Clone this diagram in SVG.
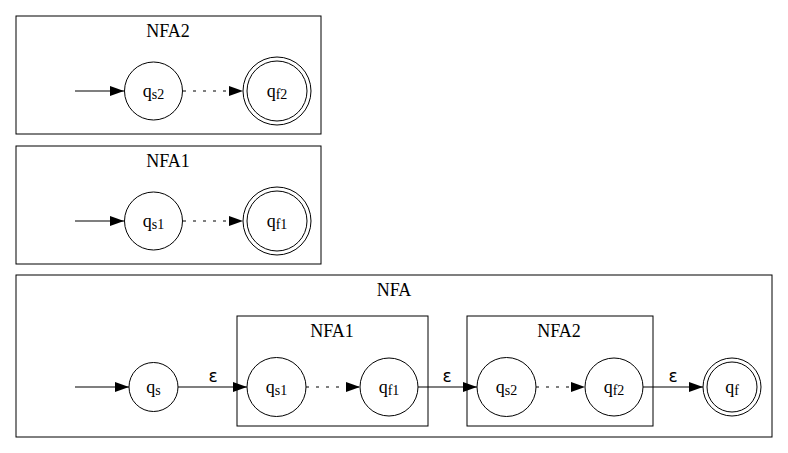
<svg xmlns="http://www.w3.org/2000/svg" width="788" height="453" viewBox="0 0 788 453">
<defs>
<marker id="ah" markerUnits="userSpaceOnUse" markerWidth="14" markerHeight="10" refX="14" refY="5" orient="auto">
<path d="M0,0 L14,5 L0,10 Z" fill="#000"/>
</marker>
<style>
.box{fill:#fff;stroke:#000;stroke-width:1}
.st{fill:#fff;stroke:#000;stroke-width:1}
.e{stroke:#000;stroke-width:1.2;fill:none;marker-end:url(#ah)}
.d{stroke-dasharray:3,7}
.t{font-family:'Liberation Serif','Times New Roman',serif;font-size:18px;fill:#000;text-anchor:middle}
.s{font-size:14px}
.eps{font-family:'DejaVu Sans',sans-serif;font-size:17px;fill:#000;text-anchor:middle}
</style>
</defs>
<rect width="788" height="453" fill="#fff"/>

<g id="cluster_top_NFA2">
<rect class="box" x="16" y="16" width="305" height="118"/>
<text class="t" x="168" y="37">NFA2</text>
</g>
<g id="cluster_top_NFA1">
<rect class="box" x="16" y="146" width="305" height="118"/>
<text class="t" x="168" y="167">NFA1</text>
</g>
<g id="cluster_NFA">
<rect class="box" x="16" y="275" width="756" height="162"/>
<text class="t" x="394" y="296">NFA</text>
</g>
<g id="cluster_NFA_NFA1">
<rect class="box" x="237" y="316" width="191" height="110"/>
<text class="t" x="332" y="337">NFA1</text>
</g>
<g id="cluster_NFA_NFA2">
<rect class="box" x="467" y="316" width="186" height="110"/>
<text class="t" x="559" y="337">NFA2</text>
</g>

<g id="connectors">
<line class="e" x1="75" y1="91" x2="124" y2="91"/>
<line class="e d" x1="183" y1="91" x2="243" y2="91"/>
<line class="e" x1="75" y1="221" x2="124" y2="221"/>
<line class="e d" x1="183" y1="221" x2="243" y2="221"/>
<line class="e" x1="75" y1="387" x2="129" y2="387"/>
<line class="e" x1="178" y1="387" x2="247" y2="387"/>
<line class="e d" x1="306" y1="387" x2="360" y2="387"/>
<line class="e" x1="418" y1="387" x2="477" y2="387"/>
<line class="e d" x1="536" y1="387" x2="585" y2="387"/>
<line class="e" x1="643" y1="387" x2="703" y2="387"/>
<text class="eps" x="213" y="382">ε</text>
<text class="eps" x="447" y="382">ε</text>
<text class="eps" x="673" y="382">ε</text>
</g>

<g id="top_qs2">
<circle class="st" cx="153.5" cy="91" r="29"/>
<text class="t" x="153.5" y="97">q<tspan class="s" dy="2">s2</tspan></text>
</g>
<g id="top_qf2">
<circle class="st" cx="277" cy="91" r="34"/>
<circle class="st" cx="277" cy="91" r="30"/>
<text class="t" x="277" y="97">q<tspan class="s" dy="2">f2</tspan></text>
</g>
<g id="top_qs1">
<circle class="st" cx="153.5" cy="221" r="29"/>
<text class="t" x="153.5" y="227">q<tspan class="s" dy="2">s1</tspan></text>
</g>
<g id="top_qf1">
<circle class="st" cx="277" cy="221" r="34"/>
<circle class="st" cx="277" cy="221" r="30"/>
<text class="t" x="277" y="227">q<tspan class="s" dy="2">f1</tspan></text>
</g>

<g id="qs">
<circle class="st" cx="153.5" cy="387" r="24.5"/>
<text class="t" x="153.5" y="393">q<tspan class="s" dy="2">s</tspan></text>
</g>
<g id="qs1">
<circle class="st" cx="276.5" cy="387" r="29.5"/>
<text class="t" x="276.5" y="393">q<tspan class="s" dy="2">s1</tspan></text>
</g>
<g id="qf1">
<circle class="st" cx="389" cy="387" r="29"/>
<text class="t" x="389" y="393">q<tspan class="s" dy="2">f1</tspan></text>
</g>
<g id="qs2">
<circle class="st" cx="506.5" cy="387" r="29.5"/>
<text class="t" x="506.5" y="393">q<tspan class="s" dy="2">s2</tspan></text>
</g>
<g id="qf2">
<circle class="st" cx="614" cy="387" r="29"/>
<text class="t" x="614" y="393">q<tspan class="s" dy="2">f2</tspan></text>
</g>
<g id="qf">
<circle class="st" cx="732" cy="387" r="29"/>
<circle class="st" cx="732" cy="387" r="25"/>
<text class="t" x="732" y="393">q<tspan class="s" dy="2">f</tspan></text>
</g>
</svg>
